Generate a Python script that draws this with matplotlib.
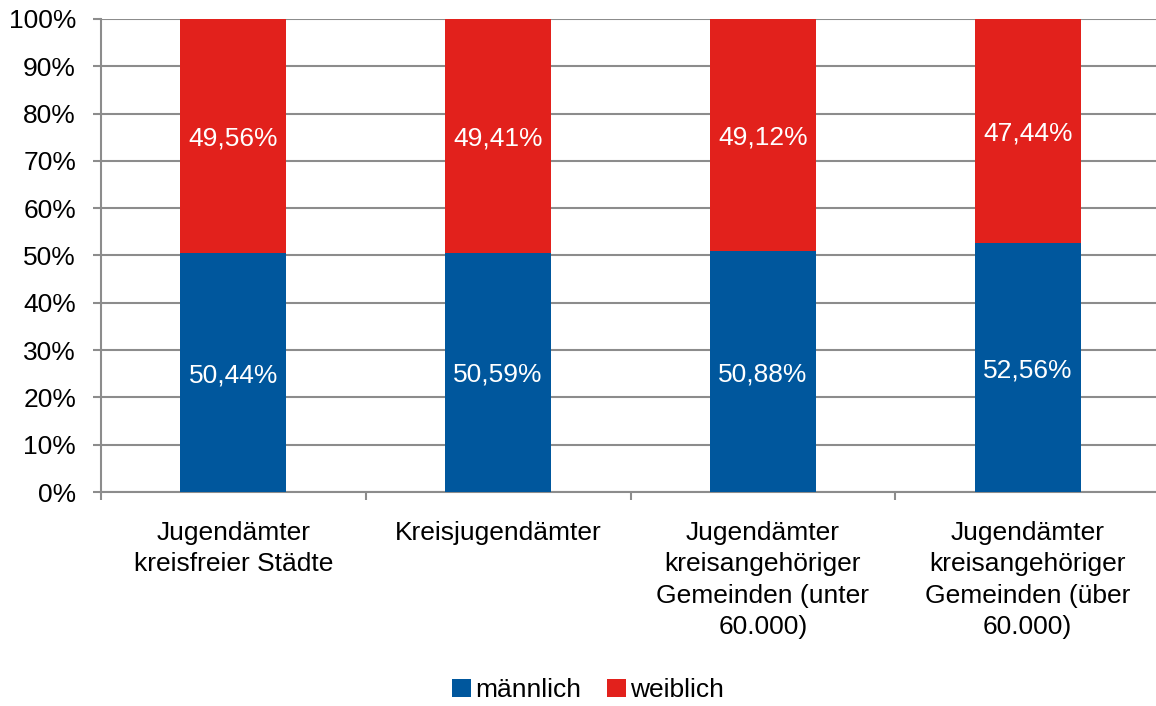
import matplotlib
matplotlib.use("Agg")
import matplotlib.pyplot as plt
import numpy as np

plt.rcParams['font.family'] = ['Liberation Sans', 'DejaVu Sans']

categories = ["Jugendämter\nkreisfreier Städte", "Kreisjugendämter",
              "Jugendämter\nkreisangehöriger\nGemeinden (unter\n60.000)",
              "Jugendämter\nkreisangehöriger\nGemeinden (über\n60.000)"]
maennlich = [50.44, 50.59, 50.88, 52.56]
weiblich = [49.56, 49.41, 49.12, 47.44]
yticks = [0, 10, 20, 30, 40, 50, 60, 70, 80, 90, 100]

blue = "#00579D"
red = "#E2211C"
grid = "#8C8C8C"
fs = 19

W, H = 1156, 706
fig = plt.figure(figsize=(W/100, H/100), dpi=100)
left, right, top, bottom = 101, 1160, 19, 492
ax = fig.add_axes([left/W, 1-bottom/H, (right-left)/W, (bottom-top)/H])

x = np.arange(len(categories))
bw = 0.4
b1 = ax.bar(x, maennlich, bw, color=blue, label="männlich", zorder=3)
b2 = ax.bar(x, weiblich, bw, bottom=maennlich, color=red, label="weiblich", zorder=3)

def fmt(v):
    return f"{v:.2f}%".replace(".", ",")

for i in range(len(x)):
    ax.text(x[i], maennlich[i]/2, fmt(maennlich[i]), ha="center", va="center_baseline",
            color="white", fontsize=fs, zorder=4)
    ax.text(x[i], maennlich[i] + weiblich[i]/2, fmt(weiblich[i]), ha="center", va="center_baseline",
            color="white", fontsize=fs, zorder=4)

ax.set_xlim(-0.5, len(categories)-0.5)
ax.set_ylim(0, 100)
ax.set_yticks(yticks)
ax.set_yticklabels([f"{t}%" for t in yticks], fontsize=fs)
ax.yaxis.grid(True, color=grid, linewidth=1.5, zorder=0)
ax.set_axisbelow(True)

ax.set_xticks(x)
ax.set_xticklabels(categories, fontsize=fs, linespacing=1.38)
ax.set_xticks(np.arange(len(categories)+1) - 0.5, minor=True)
ax.tick_params(axis="x", which="major", length=0, pad=21)
ax.tick_params(axis="x", which="minor", length=6, width=1.5, color=grid)
ax.tick_params(axis="y", length=6, width=1.5, color=grid, pad=12)

for s in ["top", "right"]:
    ax.spines[s].set_visible(False)
for s in ["left", "bottom"]:
    ax.spines[s].set_color(grid)
    ax.spines[s].set_linewidth(1.5)

leg = fig.legend(handles=[b1, b2], labels=["männlich", "weiblich"], loc="center",
                 bbox_to_anchor=(588/W, 1-690/H), ncol=2, frameon=False, fontsize=fs,
                 handlelength=0.7, handleheight=0.7, handletextpad=0.15, columnspacing=1.0)

fig.savefig("out.png", dpi=100)
